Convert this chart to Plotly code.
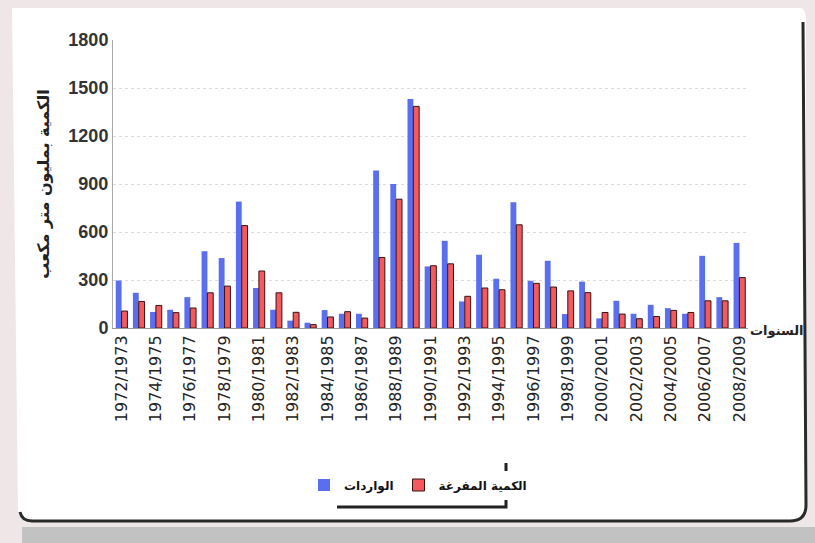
import plotly.graph_objects as go

seasons = [
    "1972/1973", "1973/1974", "1974/1975", "1975/1976", "1976/1977", "1977/1978",
    "1978/1979", "1979/1980", "1980/1981", "1981/1982", "1982/1983", "1983/1984",
    "1984/1985", "1985/1986", "1986/1987", "1987/1988", "1988/1989", "1989/1990",
    "1990/1991", "1991/1992", "1992/1993", "1993/1994", "1994/1995", "1995/1996",
    "1996/1997", "1997/1998", "1998/1999", "1999/2000", "2000/2001", "2001/2002",
    "2002/2003", "2003/2004", "2004/2005", "2005/2006", "2006/2007", "2007/2008",
    "2008/2009",
]
inflows = [297, 220, 100, 114, 193, 480, 437, 790, 250, 114, 46, 33, 112, 89, 89,
           984, 900, 1431, 385, 545, 166, 458, 308, 786, 295, 420, 87, 290, 60, 170,
           89, 145, 124, 89, 451, 193, 532]
released = [106, 166, 141, 96, 125, 220, 262, 640, 356, 220, 98, 21, 69, 102, 62,
            441, 805, 1385, 389, 401, 198, 250, 239, 645, 279, 256, 232, 221, 97, 87,
            58, 72, 110, 97, 170, 170, 315]
y_ticks = [0, 300, 600, 900, 1200, 1500, 1800]
name_in = "الواردات"
name_out = "الكمية المفرغة"
y_title = "الكمية بمليون متر مكعب"
x_title = "السنوات"

W, H = 815, 543
L, R, T, B = 113, 748, 40, 328


def px(x):
    return (x - L) / (R - L)


def py(y):
    return (B - y) / (B - T)


fig = go.Figure()
fig.add_trace(go.Bar(x=seasons, y=inflows, name=name_in,
                     marker=dict(color="#5a6ef0", line=dict(width=0))))
fig.add_trace(go.Bar(x=seasons, y=released, name=name_out,
                     marker=dict(color="#f25a5e", line=dict(color="#3a1010", width=1))))

shapes = []
shapes.append(dict(type="path", xref="paper", yref="paper", layer="below",
                   path=(f"M {px(12)},{py(8)} L {px(800)},{py(8)} "
                         f"Q {px(806)},{py(8)} {px(806)},{py(20)} "
                         f"L {px(806)},{py(508)} Q {px(806)},{py(520)} {px(794)},{py(520)} "
                         f"L {px(30)},{py(520)} Q {px(18)},{py(520)} {px(18)},{py(508)} Z"),
                   fillcolor="white", line=dict(width=0)))
shapes.append(dict(type="path", xref="paper", yref="paper", layer="below",
                   path=(f"M {px(803)},{py(22)} L {px(806)},{py(505)} "
                         f"Q {px(806)},{py(521)} {px(790)},{py(521)} L {px(32)},{py(521)} "
                         f"Q {px(22)},{py(521)} {px(20)},{py(512)}"),
                   line=dict(color="#2a2a2a", width=3)))
shapes.append(dict(type="rect", xref="paper", yref="paper", layer="below",
                   x0=px(22), x1=px(815), y0=py(527), y1=py(543),
                   fillcolor="#c2c2c2", line=dict(width=0)))
shapes.append(dict(type="path", xref="paper", yref="paper",
                   path=(f"M {px(506)},{py(463)} L {px(506)},{py(507)} L {px(337)},{py(507)}"),
                   line=dict(color="#222", width=3)))

fig.update_layout(
    width=W, height=H,
    margin=dict(l=L, r=W - R, t=T, b=H - B, autoexpand=False),
    paper_bgcolor="#efe7e7",
    plot_bgcolor="rgba(0,0,0,0)",
    barmode="group",
    bargap=0.32,
    bargroupgap=0.0,
    shapes=shapes,
    showlegend=True,
    legend=dict(orientation="h", x=px(418), y=py(485), xanchor="center", yanchor="middle",
                bgcolor="white", borderwidth=0,
                font=dict(family="DejaVu Sans", size=12, color="#111", weight="bold"),
                traceorder="normal", itemwidth=30),
    xaxis=dict(
        type="category",
        tickvals=seasons[::2], ticktext=seasons[::2],
        tickangle=-90,
        tickfont=dict(family="DejaVu Sans", size=16, color="#222"),
        showline=True, linecolor="#999", linewidth=1,
        showgrid=False, ticks="", automargin=False,
    ),
    yaxis=dict(
        range=[0, 1800], tickvals=y_ticks,
        tickfont=dict(family="Liberation Sans Narrow, Liberation Sans", size=18,
                      color="#333", weight="bold"),
        showline=True, linecolor="#aaa", linewidth=1,
        showgrid=True, gridcolor="#dcdcdc", griddash="dot", gridwidth=1,
        zeroline=False, ticks="", automargin=False,
        title=dict(text=y_title,
                   font=dict(family="DejaVu Sans", size=16, color="#222", weight="bold"),
                   standoff=14),
    ),
    annotations=[
        dict(text=x_title, xref="paper", yref="paper", x=px(777), y=py(330),
             showarrow=False,
             font=dict(family="DejaVu Sans", size=13, color="#222", weight="bold"),
             xanchor="center", yanchor="middle"),
    ],
)

fig.write_html("out.html",
               config={"displayModeBar": False},
               post_script="document.body.style.margin='0px';document.body.style.overflow='hidden';")
